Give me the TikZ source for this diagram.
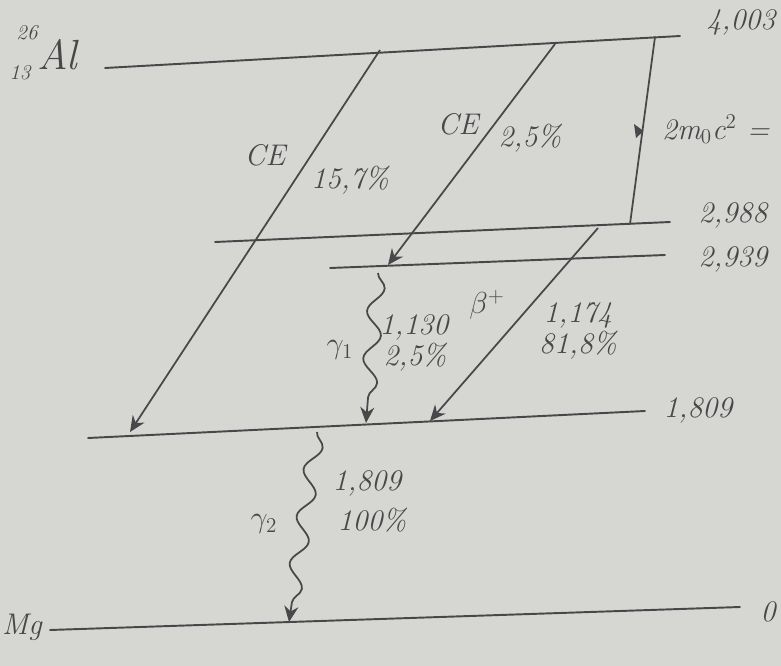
\documentclass[tikz,border=0pt]{standalone}
\usetikzlibrary{decorations.pathmorphing,arrows.meta}
\definecolor{paper}{RGB}{214,214,211}
\definecolor{pencil}{RGB}{72,72,74}
\begin{document}
\begin{tikzpicture}[x=0.02cm,y=-0.02cm,
  level/.style={draw=pencil,line width=1.1pt,line cap=round},
  trans/.style={draw=pencil,line width=1pt,-{Stealth[length=9pt,width=8pt]}},
  wavy/.style={draw=pencil,line width=1pt,-{Stealth[length=9pt,width=8pt]},
     decorate,decoration={snake,amplitude=4.5pt,segment length=0.95cm,post length=10pt}},
  lab/.style={text=pencil,font=\fontsize{17}{20}\selectfont\itshape,inner sep=1pt},
  small/.style={text=pencil,font=\fontsize{12}{14}\selectfont\itshape,inner sep=0pt}]
\fill[paper] (0,0) rectangle (781,666);
\useasboundingbox (0,0) rectangle (781,666);
% level end points
\coordinate (AlL) at (105,68);  \coordinate (AlR) at (680,36);
\coordinate (aL) at (215,242);  \coordinate (aR) at (670,222);
\coordinate (bL) at (330,268);  \coordinate (bR) at (665,255);
\coordinate (cL) at (88,438);   \coordinate (cR) at (645,411);
\coordinate (gL) at (50,630);   \coordinate (gR) at (740,607);
\draw[level] (AlL) -- (AlR);
\draw[level] (aL) -- (aR);
\draw[level] (bL) -- (bR);
\draw[level] (cL) -- (cR);
\draw[level] (gL) -- (gR);
% transitions
\coordinate (ce1s) at (380,50);  \coordinate (ce1e) at (130,432);
\coordinate (ce2s) at (555,44);  \coordinate (ce2e) at (388,265);
\coordinate (bes) at (598,228);  \coordinate (bee) at (430,421);
\coordinate (g1s) at (378,273);  \coordinate (g1e) at (366,423);
\coordinate (g2s) at (317,432);  \coordinate (g2e) at (289,622);
\coordinate (mt) at (655,37);    \coordinate (mb) at (630,224);
\draw[trans] (ce1s) -- (ce1e);
\draw[trans] (ce2s) -- (ce2e);
\draw[trans] (bes) -- (bee);
\draw[wavy] (g1s) -- (g1e);
\draw[wavy] (g2s) -- (g2e);
\draw[level,line width=1pt] (mt) -- (mb);
\fill[pencil] (643.5,131) -- (634,124) -- (636,138) -- cycle;
% labels
\node[small] (lA) at (27,33) {26};
\node[small] (lZ) at (20,73) {13};
\node[lab,font=\fontsize{24}{26}\selectfont\itshape] (lAl) at (57,55) {Al};
\node[lab,anchor=west] (lMg) at (0,627) {Mg};
\node[lab] (l4003) at (741,22) {4,003};
\node[lab] (l2988) at (733,215) {2,988};
\node[lab] (l2939) at (733,259) {2,939};
\node[lab] (l1809) at (698,410) {1,809};
\node[lab] (l0) at (768,612) {0};
\node[lab,anchor=west] (lmc) at (660,129) {2m$_0$c$^2$ =};
\node[lab] (ce1) at (265,155) {CE};
\node[lab] (p1) at (350,180) {15,7\%};
\node[lab] (ce2) at (458,124) {CE};
\node[lab] (p2) at (530,138) {2,5\%};
\node[lab] (lb) at (487,305) {$\beta^+$};
\node[lab] (e1) at (578,315) {1,174};
\node[lab] (p3) at (578,345) {81,8\%};
\node[lab] (g1) at (340,350) {$\gamma_1$};
\node[lab] (e2) at (414,327) {1,130};
\node[lab] (p4) at (415,357) {2,5\%};
\node[lab] (g2) at (264,524) {$\gamma_2$};
\node[lab] (e3) at (367,483) {1,809};
\node[lab] (p5) at (372,520) {100\%};
\end{tikzpicture}
\end{document}
